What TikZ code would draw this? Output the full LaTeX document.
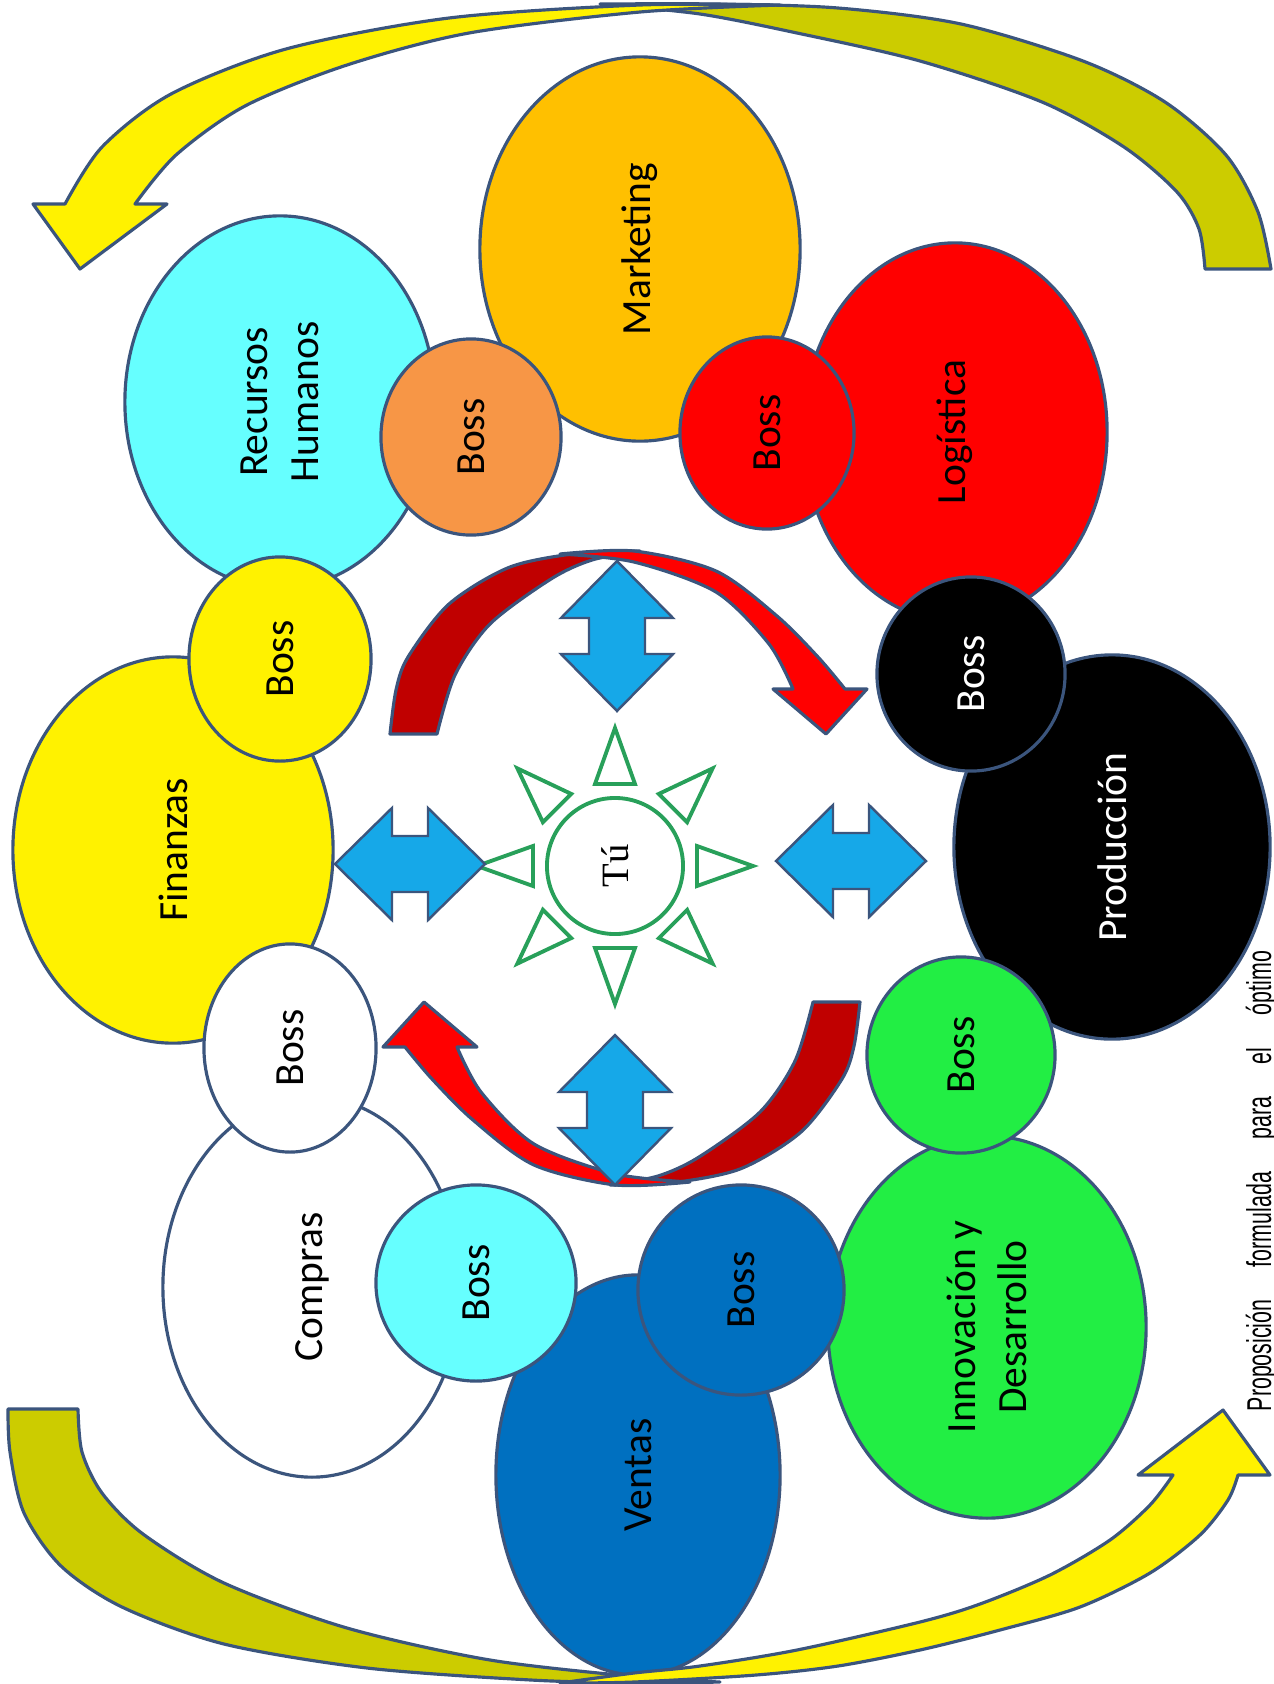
\documentclass[tikz,border=0pt]{standalone}
\usepackage{fontspec}
\setmainfont{Carlito}
\newfontfamily\capfont[FakeStretch=0.62]{Liberation Sans}
\newfontfamily\tufont{Liberation Serif}
\usetikzlibrary{shapes.geometric}

\definecolor{edge}{RGB}{59,85,125}
\definecolor{mktorange}{RGB}{255,192,0}
\definecolor{rhcyan}{RGB}{102,255,255}
\definecolor{bossorange}{RGB}{247,150,70}
\definecolor{ventblue}{RGB}{0,112,192}
\definecolor{innogreen}{RGB}{34,238,68}
\definecolor{arrowblue}{RGB}{22,168,232}
\definecolor{backred}{RGB}{192,0,0}
\definecolor{backyellow}{RGB}{204,204,0}
\definecolor{sungreen}{RGB}{40,160,90}

\tikzset{
  dept/.style={ellipse, draw=edge, line width=0.9pt, rotate=90, align=center, inner sep=0pt, font=\fontsize{11.8}{14.5}\selectfont},
  radii/.style 2 args={minimum height=#1*0.02cm, minimum width=#2*0.02cm},
  band/.style={draw=edge, line width=0.9pt, line join=round},
  dblarrow/.style={draw=edge, line width=0.7pt, fill=arrowblue},
  ray/.style={draw=sungreen, line width=1.1pt},
}

\begin{document}
\begin{tikzpicture}[x=0.01cm, y=-0.01cm]
    \useasboundingbox (0,0) rectangle (1274,1684);
    \clip (0,0) rectangle (1274,1684);

    % departments
    \node[dept, radii={155}{186}, fill=rhcyan] (rh) at (280,402) {Recursos\\Humanos};
    \node[dept, radii={160}{192}, fill=mktorange] (mkt) at (640,249) {Marketing};
    \node[dept, radii={152}{189}, fill=red] (log) at (955,432) {Logística};
    \node[dept, radii={160}{193}, fill=yellow] (fin) at (173,850) {Finanzas};
    \node[dept, radii={158}{192}, fill=black, text=white] (prod) at (1112,847) {Producción};
    \node[dept, radii={149}{190}, fill=white] (comp) at (312,1287) {Compras};
    \node[dept, radii={142}{200}, fill=ventblue] (vent) at (638,1475) {Ventas};
    \node[dept, radii={159}{191}, fill=innogreen] (inno) at (987,1327) {Innovación y\\Desarrollo};

    % bosses
    \node[dept, radii={90}{98}, fill=bossorange] (bossorange) at (471,437) {Boss};
    \node[dept, radii={87}{96}, fill=red] (bossred) at (767,433) {Boss};
    \node[dept, radii={91}{102}, fill=yellow] (bossyellow) at (280,659) {Boss};
    \node[dept, radii={94}{97}, fill=black, text=white] (bossblack) at (971,674) {Boss};
    \node[dept, radii={86}{104}, fill=white] (bosswhite) at (290,1048) {Boss};
    \node[dept, radii={94}{98}, fill=innogreen] (bossgreen) at (961,1055) {Boss};
    \node[dept, radii={100}{98}, fill=rhcyan] (bosscyan) at (476,1283) {Boss};
    \node[dept, radii={103}{105}, fill=ventblue] (bossblue) at (741,1290) {Boss};

    % big yellow curved arrows, top
    \draw[band, fill=backyellow] plot[smooth] coordinates {(1271,269) (1258,212) (1226,155) (1165,102) (1083,61) (961,24) (838,8) (716,4) (600,4)}
        -- plot[smooth] coordinates {(600,4) (700,14) (797,33) (920,61) (1042,102) (1124,147) (1177,192) (1199,229) (1205,269)} -- cycle;
    \draw[band, fill=yellow] plot[smooth] coordinates {(780,5) (640,5) (449,18) (286,49) (171,94) (102,147) (65,204)}
        -- (33,204) -- (80,269) -- (167,204) -- (135,204)
        -- plot[smooth] coordinates {(135,204) (176,155) (245,106) (347,65) (469,33) (640,12) (780,5)} -- cycle;
    % bottom
    \draw[band, fill=backyellow] plot[smooth] coordinates {(8,1409) (10,1452) (24,1513) (61,1566) (122,1607) (224,1644) (367,1668) (531,1680) (640,1683) (720,1682)}
        -- plot[smooth] coordinates {(720,1682) (640,1677) (490,1660) (347,1628) (224,1583) (143,1534) (102,1493) (82,1452) (78,1409)} -- cycle;
    \draw[band, fill=yellow] plot[smooth] coordinates {(560,1683) (634,1682) (756,1675) (838,1666) (920,1650) (1000,1630) (1080,1607) (1150,1573) (1200,1535) (1228,1500) (1238,1475)}
        -- (1270,1475) -- (1223,1410) -- (1138,1475) -- (1173,1475)
        -- plot[smooth] coordinates {(1173,1475) (1150,1505) (1110,1540) (1050,1575) (980,1604) (920,1622) (797,1650) (700,1666) (634,1673) (560,1683)} -- cycle;

    % red curved arrows
    \foreach \rot in {0,180}{
    \begin{scope}[rotate around={\rot:(625,868)}]
        \draw[band, fill=backred] plot[smooth] coordinates {(390,734) (396,690) (408,657) (449,604) (510,567) (580,553) (640,551)}
            -- plot[smooth] coordinates {(640,551) (592,560) (551,579) (490,624) (455,675) (437,734)} -- cycle;
        \draw[band, fill=red] plot[smooth] coordinates {(560,554) (634,551) (716,571) (777,616) (818,657) (845,689)}
            -- (867,689) -- (826,734) -- (773,689) -- (793,689)
            -- plot[smooth] coordinates {(793,689) (769,644) (716,592) (634,562) (560,554)} -- cycle;
    \end{scope}}

    % centre
    \node[circle, draw=sungreen, line width=1.1pt, minimum size=1.36cm, inner sep=0pt, rotate=90, font=\tufont\fontsize{11}{13}\selectfont] (tu) at (615,866) {Tú};
    \foreach \a in {0,45,...,315}
        \draw[ray, shift={(tu.center)}, rotate=\a] (138,0) -- (82,20) -- (82,-20) -- cycle;

    \foreach \x/\y/\r in {410/864/0, 851/861/0, 617/636/90, 615/1110/90}
        \draw[dblarrow, shift={(\x,\y)}, rotate=\r] (-75,0) -- (-18,-56) -- (-18,-28) -- (18,-28) -- (18,-56) -- (75,0)
            -- (18,56) -- (18,28) -- (-18,28) -- (-18,56) -- cycle;

    \node[rotate=90, anchor=base, inner sep=0pt, font=\capfont\fontsize{9.8}{11}\selectfont] (caption) at (1271,1181)
        {\makebox[4.6cm][s]{Proposición formulada para el óptimo}};
\end{tikzpicture}
\end{document}
